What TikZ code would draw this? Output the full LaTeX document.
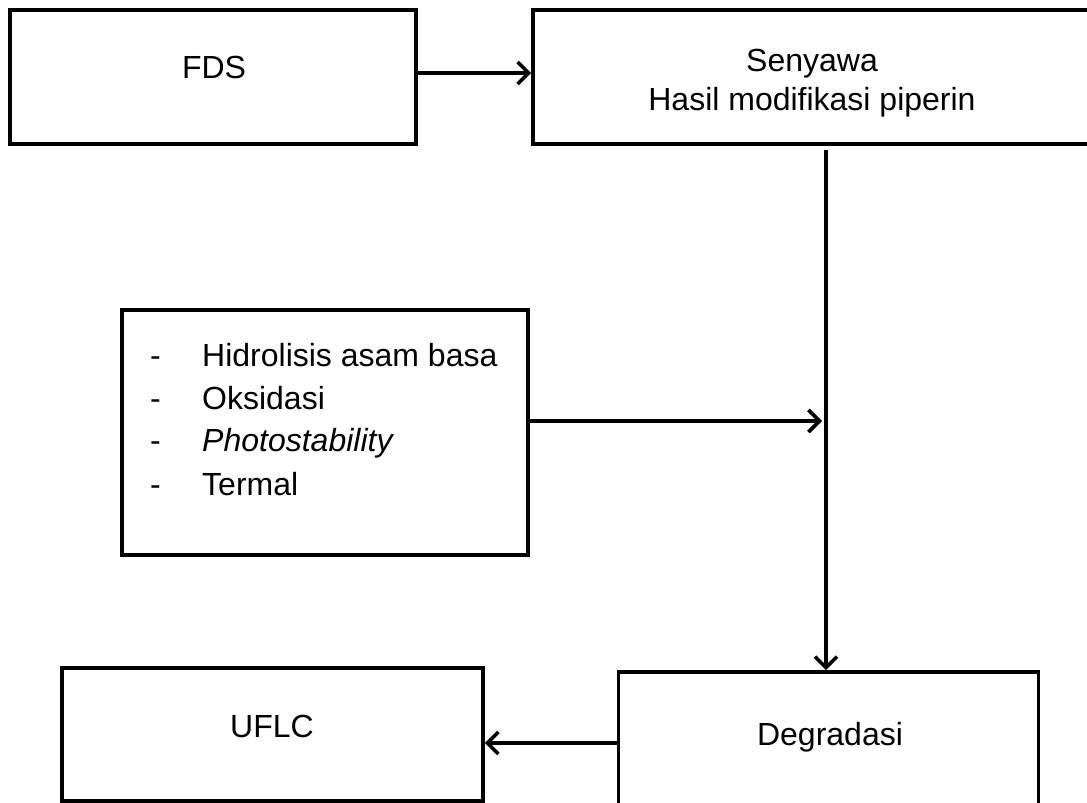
\documentclass[tikz,border=0pt]{standalone}
\usepackage{fontspec}
\setmainfont{Liberation Sans}
\usetikzlibrary{arrows.meta}
\begin{document}
\begin{tikzpicture}[x=1pt,y=-1pt,
  box/.style={draw, line width=3.6pt, inner sep=0pt},
  lbl/.style={font=\fontsize{32}{35}\selectfont, anchor=base, inner sep=0pt},
  item/.style={font=\fontsize{32}{35}\selectfont, anchor=base west, inner sep=0pt},
  conn/.style={line width=3.6pt, -{Straight Barb[length=11pt,width=22pt,line width=3.6pt]}}]
\useasboundingbox (0,0) rectangle (1087,803);
\clip (0,0) rectangle (1087,803);
% boxes
\node[box, minimum width=406pt, minimum height=134pt] (fds) at (213,77) {};
\node[box, minimum width=558pt, minimum height=134pt] (sen) at (812,77) {};
\node[box, minimum width=406pt, minimum height=245pt] (mid) at (325,432.5) {};
\node[box, minimum width=421pt, minimum height=133pt] (uflc) at (272.5,734.5) {};
\node[box, minimum width=420pt, minimum height=180pt] (degr) at (828.5,762) {};
% texts
\node[lbl] (tfds) at (214,78) {FDS};
\node[lbl] (tsen1) at (812,71) {Senyawa};
\node[lbl] (tsen2) at (812,110) {Hasil modifikasi piperin};
\node[item] (d1) at (150,366) {-};
\node[item] (i1) at (202,366) {Hidrolisis asam basa};
\node[item] (d2) at (150,409) {-};
\node[item] (i2) at (202,409) {Oksidasi};
\node[item] (d3) at (150,451) {-};
\node[item] (i3) at (202,451) {\itshape Photostability};
\node[item] (d4) at (150,495) {-};
\node[item] (i4) at (202,495) {Termal};
\node[lbl] (tuflc) at (272,737) {UFLC};
\node[lbl] (tdeg) at (830,745) {Degradasi};
% connectors
\coordinate (vx) at (826,0);
\coordinate (midend) at (822,421);
\draw[conn] (fds.east |- 0,73) -- (sen.west |- 0,73);
\draw[conn] ([yshift=-4pt]sen.south -| vx) -- (degr.north -| vx);
\draw[conn] (mid.east |- midend) -- (midend);
\draw[conn] (degr.west |- 0,743) -- (uflc.east |- 0,743);
\end{tikzpicture}
\end{document}
